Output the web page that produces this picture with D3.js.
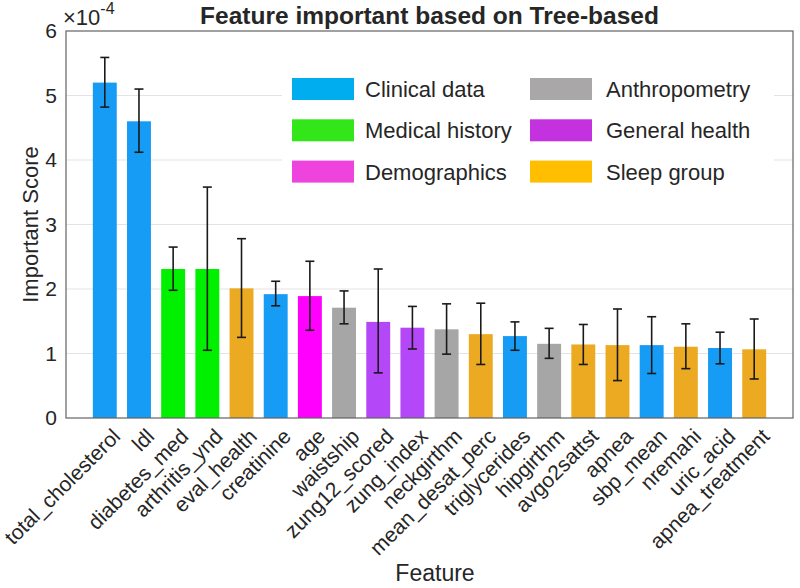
<!DOCTYPE html>
<html lang="en">
<head>
<meta charset="utf-8">
<title>Feature important based on Tree-based</title>
<style>
    html, body { margin: 0; padding: 0; background: #fff; }
    text { font-family: "Liberation Sans", Arial, sans-serif; fill: #262626; }
    .grid line { stroke: #e3e3e3; stroke-width: 1; }
</style>
</head>
<body>
<div id="chart"></div>
<script src="https://d3js.org/d3.v7.min.js"></script>
<script>
// feature names, in plotted order
var features = ["total_cholesterol", "ldl", "diabetes_med", "arthritis_ynd", "eval_health",
    "creatinine", "age", "waistship", "zung12_scored", "zung_index", "neckgirthm",
    "mean_desat_perc", "triglycerides", "hipgirthm", "avgo2sattst", "apnea", "sbp_mean",
    "nremahi", "uric_acid", "apnea_treatment"];
// group of each feature
var groups = ["Clinical data", "Clinical data", "Medical history", "Medical history", "Sleep group",
    "Clinical data", "Demographics", "Anthropometry", "General health", "General health", "Anthropometry",
    "Sleep group", "Clinical data", "Anthropometry", "Sleep group", "Sleep group", "Clinical data",
    "Sleep group", "Clinical data", "Sleep group"];
// scores (x1e-4) and error bar ends
var scores = [5.20, 4.60, 2.31, 2.31, 2.01, 1.92, 1.89, 1.71, 1.49, 1.40, 1.375,
    1.30, 1.27, 1.15, 1.14, 1.13, 1.13, 1.105, 1.085, 1.065];
var errLow = [4.82, 4.12, 1.98, 1.05, 1.25, 1.74, 1.36, 1.46, 0.70, 1.07, 0.99,
    0.83, 1.05, 0.925, 0.83, 0.58, 0.69, 0.765, 0.84, 0.605];
var errHigh = [5.59, 5.10, 2.65, 3.58, 2.78, 2.12, 2.43, 1.97, 2.31, 1.73, 1.77,
    1.78, 1.49, 1.39, 1.45, 1.69, 1.57, 1.46, 1.33, 1.535];
var yTicks = [0, 1, 2, 3, 4, 5, 6];
var gridTicks = [1, 2, 3, 4, 5];

// legend, two columns of three
var legendGroups = ["Clinical data", "Medical history", "Demographics",
    "Anthropometry", "General health", "Sleep group"];
var barColors = ["#179cf6", "#00f000", "#ff00ff", "#a6a6a6", "#b447f7", "#ebaa22"];
var legendColors = ["#00aeef", "#33e61a", "#ee44dd", "#a9a7a7", "#c431de", "#ffbf00"];

var W = 800, H = 588;
var pL = 66, pR = 793, pT = 31, pB = 418;

var data = features.map(function(f, i) {
    return {name: f, group: groups[i], v: scores[i] * 1e-4, lo: errLow[i] * 1e-4, hi: errHigh[i] * 1e-4};
});

var x = d3.scaleBand().domain(features).range([pL, pR]).paddingInner(0.3).paddingOuter(0.785);
var y = d3.scaleLinear().domain([0, 6e-4]).range([pB, pT]);
var barColor = d3.scaleOrdinal().domain(legendGroups).range(barColors);

var svg = d3.select("#chart").append("svg").attr("width", W).attr("height", H);

// grid
svg.append("g").attr("class", "grid")
    .selectAll("line").data(gridTicks).enter().append("line")
    .attr("x1", pL).attr("x2", pR)
    .attr("y1", function(d) { return y(d * 1e-4); })
    .attr("y2", function(d) { return y(d * 1e-4); });

// legend background hides the grid behind it
svg.append("rect").attr("x", 282).attr("y", 62).attr("width", 492).attr("height", 143).attr("fill", "#fff");

// bars
svg.append("g").selectAll("rect").data(data).enter().append("rect")
    .attr("x", function(d) { return x(d.name); })
    .attr("width", x.bandwidth())
    .attr("y", function(d) { return y(d.v); })
    .attr("height", function(d) { return y(0) - y(d.v); })
    .attr("fill", function(d) { return barColor(d.group); });

// error bars
var eb = svg.append("g").attr("stroke", "#1a1a1a").attr("stroke-width", 1.6)
    .selectAll("g").data(data).enter().append("g")
    .attr("transform", function(d) { return "translate(" + (x(d.name) + x.bandwidth() / 2) + ",0)"; });
eb.append("line").attr("y1", function(d) { return y(d.lo); }).attr("y2", function(d) { return y(d.hi); });
eb.append("line").attr("x1", -4.5).attr("x2", 4.5)
    .attr("y1", function(d) { return y(d.lo); }).attr("y2", function(d) { return y(d.lo); });
eb.append("line").attr("x1", -4.5).attr("x2", 4.5)
    .attr("y1", function(d) { return y(d.hi); }).attr("y2", function(d) { return y(d.hi); });

// axis box
svg.append("rect").attr("x", pL).attr("y", pT).attr("width", pR - pL).attr("height", pB - pT)
    .attr("fill", "none").attr("stroke", "#636363").attr("stroke-width", 1.2);

// y axis
var yAxis = svg.append("g").attr("transform", "translate(" + pL + ",0)")
    .call(d3.axisLeft(y).tickValues(yTicks.map(function(t) { return t * 1e-4; }))
        .tickFormat(function(d) { return Math.round(d * 1e4); }).tickSize(0).tickPadding(9));
yAxis.select(".domain").remove();
yAxis.selectAll("text").attr("font-size", 21).attr("font-family", null).attr("fill", "#262626");

// exponent
var ex = svg.append("text").attr("x", 63).attr("y", 25).attr("font-size", 22);
ex.append("tspan").text("\u00d710");
ex.append("tspan").attr("dy", -11).attr("font-size", 16).text("-4");

// x axis
var xAxis = svg.append("g").attr("transform", "translate(0," + pB + ")")
    .call(d3.axisBottom(x).tickSize(0).tickPadding(0));
xAxis.select(".domain").remove();
xAxis.selectAll("text")
    .attr("font-size", 21).attr("font-family", null).attr("fill", "#262626")
    .attr("text-anchor", "end")
    .attr("dy", "0.72em")
    .attr("transform", "translate(6,9) rotate(-45)");

// title and axis labels
svg.append("text").attr("x", (pL + pR) / 2).attr("y", 24)
    .attr("text-anchor", "middle").attr("font-size", 24.5).attr("font-weight", "bold").attr("fill", "#000")
    .text("Feature important based on Tree-based");
svg.append("text").attr("x", 435).attr("y", 581).attr("text-anchor", "middle").attr("font-size", 23)
    .text("Feature");
svg.append("text").attr("transform", "translate(38," + ((pT + pB) / 2) + ") rotate(-90)")
    .attr("text-anchor", "middle").attr("font-size", 22).text("Important Score");

// legend
var leg = svg.append("g").selectAll("g").data(legendGroups).enter().append("g")
    .attr("transform", function(d, i) {
        return "translate(" + (i < 3 ? 292 : 530) + "," + (78 + (i % 3) * 41.3) + ")";
    });
leg.append("rect").attr("width", 62).attr("height", 22)
    .attr("fill", function(d, i) { return legendColors[i]; });
leg.append("text").attr("x", function(d, i) { return i < 3 ? 73 : 76; }).attr("y", 19)
    .attr("font-size", 22).attr("fill", "#111").text(function(d) { return d; });
</script>
</body>
</html>
